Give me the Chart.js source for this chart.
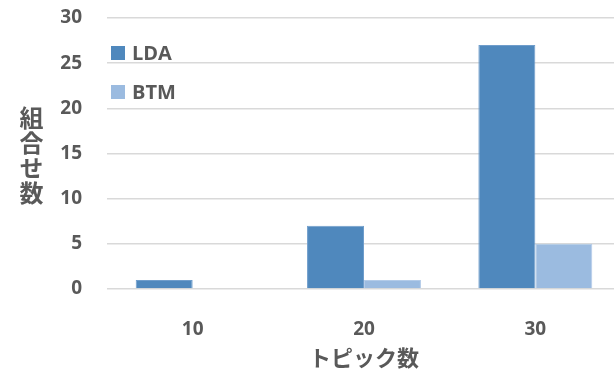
<!DOCTYPE html>
<html lang="ja">
<head>
<meta charset="utf-8">
<script src="https://cdn.jsdelivr.net/npm/chart.js@4/dist/chart.umd.min.js"></script>
<style>
    html, body { margin: 0; padding: 0; background: #fff; overflow: hidden; }
    #wrap { position: relative; width: 621px; height: 373px; }
    #ytitle {
        position: absolute; left: 14px; top: 106px;
        writing-mode: vertical-rl; line-height: 28px; letter-spacing: 1px;
        font: bold 24px "Noto Sans CJK JP", sans-serif; color: #595959;
    }
</style>
</head>
<body>
<div id="wrap">
    <canvas id="chart" width="621" height="373"></canvas>
    <div id="ytitle">組合せ数</div>
</div>
<script>
// Values.
const topics = ['10', '20', '30'];
const ldaCounts = [1, 7, 27];
const btmCounts = [0, 1, 5];
const seriesNames = ['LDA', 'BTM'];
const seriesColors = ['#4f88bd', '#9bbbe0'];

const textColor = '#595959';
const numFont = '"Open Sans", "Noto Sans", sans-serif';

// Legend sits inside the plot, top-left, as in the original.
const insideLegend = {
    id: 'insideLegend',
    afterDraw(chart) {
        const { ctx, chartArea } = chart;
        ctx.save();
        ctx.font = 'bold 20px ' + numFont;
        ctx.textBaseline = 'middle';
        chart.data.datasets.forEach((ds, i) => {
            const y = chartArea.top + 35 + i * 39;
            ctx.fillStyle = ds.backgroundColor;
            ctx.fillRect(chartArea.left + 4, y - 7, 14, 14);
            ctx.fillStyle = textColor;
            ctx.fillText(ds.label, chartArea.left + 25, y + 1);
        });
        ctx.restore();
    },
};

new Chart(document.getElementById('chart'), {
    type: 'bar',
    data: {
        labels: topics,
        datasets: [ldaCounts, btmCounts].map((data, i) => ({
            label: seriesNames[i],
            data,
            backgroundColor: seriesColors[i],
            borderColor: i === 0 ? '#6f9dcb' : '#b3cbe8',
            borderWidth: 1,
            categoryPercentage: 0.665,
            barPercentage: 1,
        })),
    },
    options: {
        responsive: false,
        animation: false,
        layout: { padding: { top: 18, right: 0, bottom: 0, left: 0 } },
        plugins: { legend: { display: false }, tooltip: { enabled: false } },
        scales: {
            x: {
                afterFit: (s) => { s.height = 84; },
                grid: { display: false },
                border: { display: false },
                ticks: { color: textColor, padding: 21, font: { family: numFont, size: 19, weight: 'bold' } },
                title: {
                    display: true,
                    text: 'トピック数',
                    color: textColor,
                    padding: { top: 12, bottom: 2 },
                    font: { family: '"Noto Sans CJK JP", sans-serif', size: 22, weight: 'bold' },
                },
            },
            y: {
                min: 0,
                max: 30,
                // fixed width; drop the label overhang Chart.js reserves above the top tick
                afterFit: (s) => { s.width = 107; s.paddingTop = 0; s.paddingBottom = 0; },
                grid: { color: '#d9d9d9', lineWidth: 1.5, drawTicks: false },
                border: { display: false },
                ticks: { stepSize: 5, color: textColor, padding: 25, font: { family: numFont, size: 19, weight: 'bold' } },
            },
        },
    },
    plugins: [insideLegend],
});
</script>
</body>
</html>
